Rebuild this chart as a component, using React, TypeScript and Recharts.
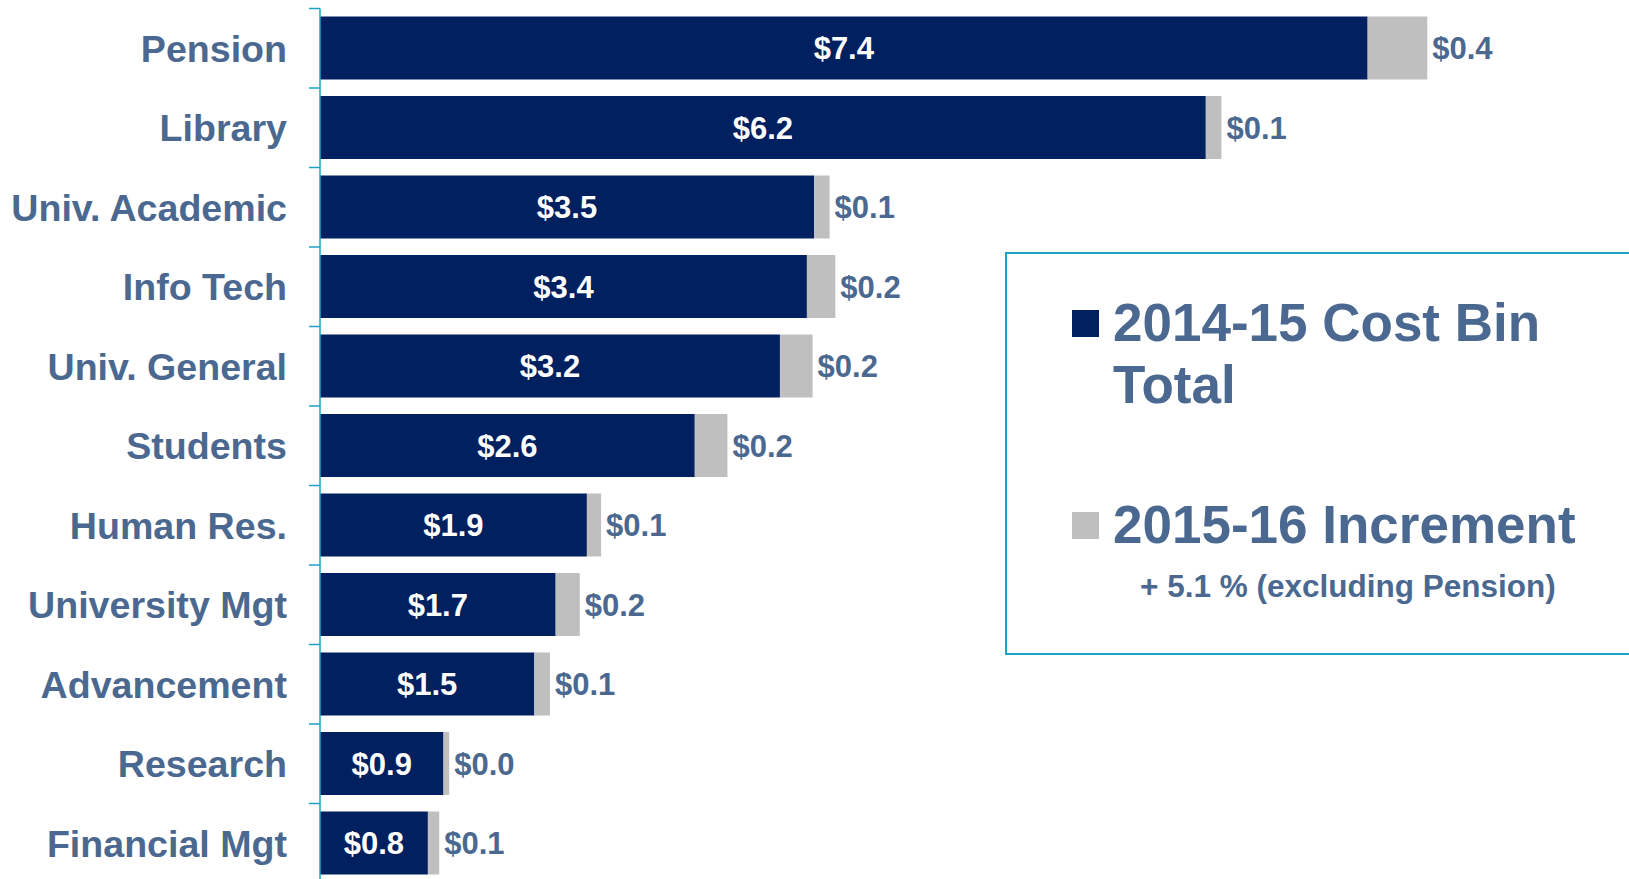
import { BarChart, Bar, XAxis, YAxis, LabelList, Legend } from "recharts";

const categories = [
  "Pension",
  "Library",
  "Univ. Academic",
  "Info Tech",
  "Univ. General",
  "Students",
  "Human Res.",
  "University Mgt",
  "Advancement",
  "Research",
  "Financial Mgt",
];
const costBin1415 = [7.38, 6.24, 3.48, 3.43, 3.24, 2.64, 1.88, 1.66, 1.51, 0.87, 0.76];
const increment1516 = [0.42, 0.11, 0.11, 0.2, 0.23, 0.23, 0.1, 0.17, 0.11, 0.04, 0.08];
const incrementNote = "+ 5.1 % (excluding Pension)";

const data = categories.map((name, i) => ({
  name,
  base: costBin1415[i],
  inc: increment1516[i],
}));

const W = 1629;
const H = 890;
const MARGIN = { top: 8.5, right: 3, bottom: 7, left: 0 };
const AXIS_W = 320;
const BAND = (H - MARGIN.top - MARGIN.bottom) / categories.length;

const NAVY = "#002060";
const GREY = "#BFBFBF";
const SLATE = "#4B6990";
const TEAL = "#1CA2C6";
const FONT = "'Liberation Sans', Arial, sans-serif";

const fmt = (v: any) => `$${Number(v).toFixed(1)}`;

const CategoryTick = ({ y, payload, index }: any) => {
  const axisX = MARGIN.left + AXIS_W;
  return (
    <g>
      <line x1={axisX - 11} x2={axisX} y1={y - BAND / 2} y2={y - BAND / 2} stroke={TEAL} strokeWidth={1.5} />
      {index === categories.length - 1 && (
        <line x1={axisX - 11} x2={axisX} y1={y + BAND / 2} y2={y + BAND / 2} stroke={TEAL} strokeWidth={1.5} />
      )}
      <text
        x={axisX - 33}
        y={y}
        dy={13.5}
        textAnchor="end"
        fill={SLATE}
        fontSize={37.6}
        fontWeight="bold"
        fontFamily={FONT}
      >
        {payload.value}
      </text>
    </g>
  );
};

const LegendBox = ({ payload }: any) => {
  const items = payload || [];
  return (
    <div
      style={{
        position: "relative",
        width: 640,
        height: 403,
        border: `2px solid ${TEAL}`,
        boxSizing: "border-box",
        fontFamily: FONT,
        fontWeight: "bold",
        color: SLATE,
      }}
    >
      {items.map((p: any, i: number) => {
        const top = i === 0 ? 38 : 240;
        return (
          <div key={p.value}>
            <div
              style={{
                position: "absolute",
                left: 65,
                top: top + 18,
                width: 27,
                height: 27,
                background: p.color,
              }}
            />
            <div
              style={{
                position: "absolute",
                left: 106,
                top,
                width: 480,
                fontSize: 53,
                lineHeight: "62px",
              }}
            >
              {p.value}
            </div>
            {i === 1 && (
              <div
                style={{
                  position: "absolute",
                  left: 133,
                  top: top + 74,
                  fontSize: 31.5,
                  lineHeight: "36px",
                  whiteSpace: "nowrap",
                }}
              >
                {incrementNote}
              </div>
            )}
          </div>
        );
      })}
    </div>
  );
};

export default function App() {
  return (
    <div style={{ width: W, height: 879, overflow: "hidden", position: "relative", fontFamily: FONT }}>
      <style>{`body{margin:0}`}</style>
      <BarChart width={W} height={H} data={data} layout="vertical" margin={MARGIN} barSize={63}>
        <XAxis type="number" domain={[0, 9.2]} hide />
        <YAxis
          type="category"
          dataKey="name"
          width={AXIS_W}
          axisLine={{ stroke: TEAL, strokeWidth: 1.5 }}
          tickLine={false}
          tick={<CategoryTick />}
          interval={0}
        />
        <Legend
          layout="vertical"
          align="center"
          verticalAlign="middle"
          content={<LegendBox />}
          wrapperStyle={{ left: 1005, top: 252, width: 640, height: 403 }}
        />
        <Bar dataKey="base" name="2014-15 Cost Bin Total" stackId="a" fill={NAVY} isAnimationActive={false}>
          <LabelList
            dataKey="base"
            position="center"
            formatter={fmt}
            fill="#FFFFFF"
            fontSize={31}
            fontWeight="bold"
            fontFamily={FONT}
          />
        </Bar>
        <Bar dataKey="inc" name="2015-16 Increment" stackId="a" fill={GREY} isAnimationActive={false}>
          <LabelList
            dataKey="inc"
            position="right"
            offset={5}
            formatter={fmt}
            fill={SLATE}
            fontSize={31}
            fontWeight="bold"
            fontFamily={FONT}
          />
        </Bar>
      </BarChart>
    </div>
  );
}
